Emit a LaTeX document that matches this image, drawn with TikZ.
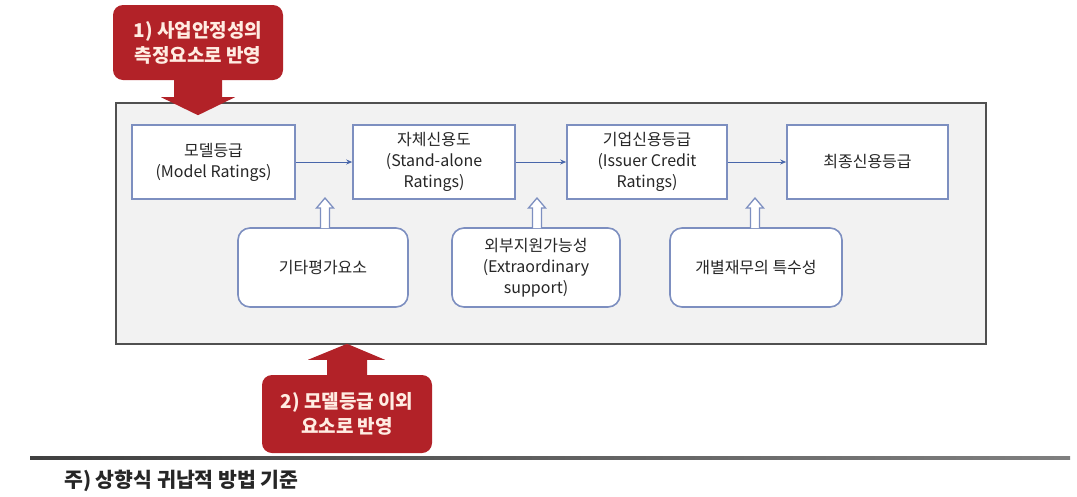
\documentclass[tikz,border=0pt]{standalone}
\usepackage{fontspec}
\setmainfont{Noto Sans CJK KR}
\usetikzlibrary{arrows.meta,calc}
\definecolor{redbox}{RGB}{178,34,40}
\definecolor{redtext}{RGB}{255,236,226}
\definecolor{boxline}{RGB}{125,143,192}
\definecolor{conn}{RGB}{72,102,170}
\definecolor{framefill}{RGB}{242,242,242}
\definecolor{frameline}{RGB}{80,80,80}
\tikzset{
  rbox/.style={fill=redbox, text=redtext, rounded corners=10pt, minimum width=170pt, align=center,
    font=\fontsize{19pt}{25pt}\selectfont\bfseries, inner sep=0pt},
  tbox/.style={draw=boxline, line width=1.6pt, fill=white, align=center, inner sep=0pt,
    font=\fontsize{16pt}{21pt}\selectfont, text=black!85},
  bbox/.style={tbox, rounded corners=12pt},
  conarrow/.style={draw=conn, line width=1pt, -{Stealth[length=6pt,width=5pt]}},
  hollow/.style={draw=boxline, line width=1.3pt, fill=white, line join=miter},
  redarrow/.style={fill=redbox}
}
\begin{document}
\begin{tikzpicture}[x=1pt,y=-1pt]
\useasboundingbox (0,0) rectangle (1077,496);
\fill[white] (0,0) rectangle (1077,496);
% frame
\node[draw=frameline, line width=2.2pt, fill=framefill, minimum width=870pt, minimum height=241pt, inner sep=0pt, anchor=north west] (frame) at (115,102) {};
% top boxes
\node[tbox, minimum width=163pt, minimum height=74pt] (b1) at (213.5,162) {모델등급\\(Model Ratings)};
\node[tbox, minimum width=162pt, minimum height=74pt] (b2) at (434,162) {자체신용도\\(Stand-alone\\Ratings)};
\node[tbox, minimum width=160pt, minimum height=74pt] (b3) at (647,162) {기업신용등급\\(Issuer Credit\\Ratings)};
\node[tbox, minimum width=161pt, minimum height=74pt] (b4) at (867.5,162) {최종신용등급};
% bottom boxes
\node[bbox, minimum width=170pt, minimum height=79pt] (c1) at (323,267.5) {기타평가요소};
\node[bbox, minimum width=168pt, minimum height=79pt] (c2) at (536,267.5) {외부지원가능성\\(Extraordinary\\support)};
\node[bbox, minimum width=172pt, minimum height=79pt] (c3) at (756,267.5) {개별재무의 특수성};
% connectors
\draw[conarrow] (b1) -- (b2);
\draw[conarrow] (b2) -- (b3);
\draw[conarrow] (b3) -- (b4);
% hollow arrows
\foreach \n/\xx in {c1/325, c2/537, c3/755}{
  \coordinate (s) at (\xx,228);
  \draw[hollow] ($(s)+(-4.5,0)$) -- ($(s)+(-4.5,-20)$) -- ($(s)+(-8.5,-20)$) -- ($(s)+(0,-30)$)
     -- ($(s)+(8.5,-20)$) -- ($(s)+(4.5,-20)$) -- ($(s)+(4.5,0)$);
}
% red boxes
\node[rbox, minimum height=75pt] (r1) at (198,42.5) {1) 사업안정성의\\측정요소로 반영};
\node[rbox, minimum height=78pt] (r2) at (347,414) {2) 모델등급 이외\\요소로 반영};
% red arrows
\fill[redarrow] ($(r1.south)+(-24,-1)$) -- ($(r1.south)+(-24,17)$) -- ($(r1.south)+(-37,17)$)
   -- ($(r1.south)+(0,35)$) -- ($(r1.south)+(37,17)$) -- ($(r1.south)+(24,17)$) -- ($(r1.south)+(24,-1)$) -- cycle;
\fill[redarrow] ($(r2.north)+(-20,1)$) -- ($(r2.north)+(-20,-15)$) -- ($(r2.north)+(-39,-15)$)
   -- ($(r2.north)+(0,-31)$) -- ($(r2.north)+(38,-15)$) -- ($(r2.north)+(20,-15)$) -- ($(r2.north)+(20,1)$) -- cycle;
% bottom line and note
\coordinate (la) at (30,458);
\coordinate (lb) at (1070,458);
\shade[left color=black!75, right color=black!50] ($(la)+(0,-1.5)$) rectangle ($(lb)+(0,1.5)$);
\node[anchor=west, font=\fontsize{20.5pt}{22pt}\selectfont\bfseries, text=black!85, inner sep=0pt] (note) at (64,481) {주) 상향식 귀납적 방법 기준};
\end{tikzpicture}
\end{document}
